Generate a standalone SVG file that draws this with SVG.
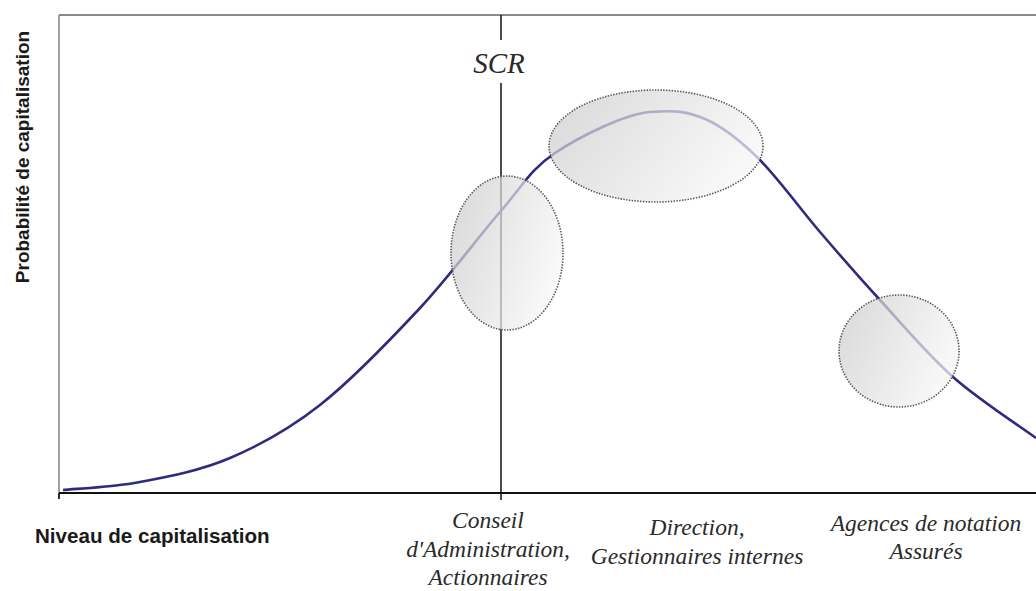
<svg xmlns="http://www.w3.org/2000/svg" width="1036" height="591" viewBox="0 0 1036 591">
  <style>
    .axis-title { font-family: "Liberation Sans", Arial, sans-serif; font-weight: bold; fill: #1a1a1a; }
    .label { font-family: "Liberation Serif", "Times New Roman", serif; font-style: italic; font-size: 23.5px; fill: #2a2a2a; text-anchor: middle; }
    .zone { fill: url(#zoneFill); fill-opacity: 0.72; stroke: #555; stroke-width: 1.6; stroke-dasharray: 1.4 1.4; }
  </style>
  <defs>
    <linearGradient id="zoneFill" x1="0" y1="0.2" x2="1" y2="0.6">
      <stop offset="0" stop-color="#cccccc"/>
      <stop offset="1" stop-color="#f8f8f8"/>
    </linearGradient>
  </defs>
  <rect width="1036" height="591" fill="#ffffff"/>

  <!-- frame and axes -->
  <g id="axes">
    <line x1="59" y1="15" x2="1036" y2="15" stroke="#8a8a8a" stroke-width="2"/>
    <line x1="59" y1="15" x2="59" y2="499" stroke="#8a8a8a" stroke-width="1.6"/>
    <line x1="59" y1="493" x2="1036" y2="493" stroke="#111" stroke-width="2"/>
    <line x1="59" y1="493" x2="59" y2="499" stroke="#111" stroke-width="1.6"/>
  </g>

  <!-- SCR threshold -->
  <g id="scr">
    <line x1="501" y1="15" x2="501" y2="40" stroke="#111" stroke-width="1.5"/>
    <line x1="501" y1="83" x2="501" y2="500" stroke="#111" stroke-width="1.5"/>
    <text x="499" y="73" font-family="'Liberation Serif', 'Times New Roman', serif" font-style="italic" font-size="29" fill="#2a2a2a" text-anchor="middle">SCR</text>
  </g>

  <!-- probability curve -->
  <g id="connectors">
    <path d="M63,490 C75.8,488.7 112.2,487.3 140,482 C167.8,476.7 200,470.8 230,458 C260,445.2 288.3,430 320,405 C351.7,380 390,340.2 420,308 C450,275.8 477.5,237.8 500,212 C522.5,186.2 530,169.7 555,153 C580,136.3 625,114 650,112 C675,110 687,111.3 705,119 C723,126.7 738.8,139.2 758,158 C777.2,176.8 799.7,208.3 820,232 C840.3,255.7 857.8,275.8 880,300 C902.2,324.2 927,354 953,377 C979,400 1022.2,427.8 1036,438" fill="none" stroke="#2e2b7e" stroke-width="2.6" stroke-linejoin="round"/>
  </g>

  <!-- stakeholder zones -->
  <g id="zone-conseil">
    <ellipse class="zone" cx="507" cy="253" rx="56" ry="77"/>
  </g>
  <g id="zone-direction">
    <ellipse class="zone" cx="656" cy="146" rx="107" ry="56"/>
  </g>
  <g id="zone-agences">
    <ellipse class="zone" cx="899" cy="351" rx="60" ry="56"/>
  </g>

  <!-- axis titles -->
  <g id="y-title">
    <text class="axis-title" font-size="19" transform="translate(29,157) rotate(-90)" text-anchor="middle">Probabilité de capitalisation</text>
  </g>
  <g id="x-title">
    <text class="axis-title" font-size="20.6" x="35" y="543">Niveau de capitalisation</text>
  </g>

  <!-- group labels -->
  <g id="label-conseil">
    <text class="label" x="488" y="528">Conseil</text>
    <text class="label" x="488" y="557">d'Administration,</text>
    <text class="label" x="488" y="585">Actionnaires</text>
  </g>
  <g id="label-direction">
    <text class="label" x="697" y="535">Direction,</text>
    <text class="label" x="697" y="564">Gestionnaires internes</text>
  </g>
  <g id="label-agences">
    <text class="label" x="926" y="531">Agences de notation</text>
    <text class="label" x="926" y="559">Assurés</text>
  </g>
</svg>
